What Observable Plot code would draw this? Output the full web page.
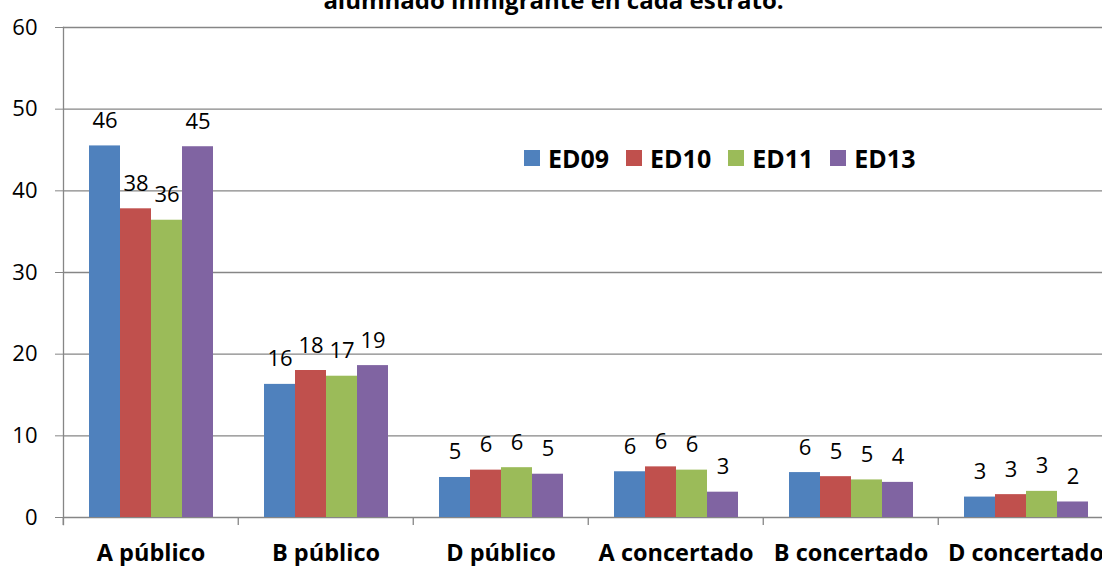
<!DOCTYPE html>
<html>
<head>
<meta charset="utf-8">
<script src="https://cdn.jsdelivr.net/npm/d3@7"></script>
<script src="https://cdn.jsdelivr.net/npm/@observablehq/plot@0.6"></script>
<style>
  html, body { margin: 0; padding: 0; background: #fff; overflow: hidden; }
  body { width: 1102px; height: 566px; position: relative; font-family: "Open Sans", sans-serif; }
  #title { position: absolute; left: 0; width: 1107px; top: -12px; text-align: center; font: bold 24px/24px "Open Sans", sans-serif; color: #000; white-space: nowrap; }
  #chart { position: absolute; left: 0; top: 0; }
  #legend { position: absolute; left: 524px; top: 141px; }
  #legend .leg-swatches { font-family: "Open Sans", sans-serif !important; font-size: 25px !important; font-weight: bold !important; color: #000 !important; margin: 0 !important; }
  #legend .leg-swatch { margin-right: 17px !important; }
  #legend .leg-swatch > svg { margin-right: 8px !important; }
</style>
</head>
<body>
<div id="chart"></div>
<div id="title">alumnado inmigrante en cada estrato.</div>
<div id="legend"></div>
<script>
const categories = ["A público", "B público", "D público", "A concertado", "B concertado", "D concertado"];
const series = ["ED09", "ED10", "ED11", "ED13"];
const colors = ["#4F81BD", "#C0504D", "#9BBB59", "#8064A2"];
const ED09 = [45.5, 16.3, 4.9, 5.6, 5.5, 2.5];
const ED10 = [37.8, 18.0, 5.8, 6.2, 5.0, 2.8];
const ED11 = [36.4, 17.3, 6.1, 5.8, 4.6, 3.2];
const ED13 = [45.4, 18.6, 5.3, 3.1, 4.3, 1.9];
const yTicks = [0, 10, 20, 30, 40, 50, 60];

const seriesValues = {ED09, ED10, ED11, ED13};
const data = [];
categories.forEach((c, i) => {
  series.forEach(s => data.push({category: c, series: s, value: seriesValues[s][i]}));
});

const W = 1102, H = 566;
const mL = 61, mR = -12, mT = 27, mB = 49;
const step = (W - mL - mR) / categories.length;
const grey = "#868686";

const chart = Plot.plot({
  width: W,
  height: H,
  marginLeft: mL,
  marginRight: mR,
  marginTop: mT,
  marginBottom: mB,
  style: {fontFamily: "Open Sans, sans-serif", background: "white", overflow: "visible"},
  fx: {domain: categories, padding: 0, label: null},
  x: {domain: series, paddingInner: 0, paddingOuter: 0.786, axis: null},
  y: {domain: [0, 60], label: null},
  color: {domain: series, range: colors},
  marks: [
    Plot.gridY(yTicks, {stroke: grey, strokeOpacity: 1, strokeWidth: 1.3}),
    Plot.frame({anchor: "left", facetAnchor: "left", stroke: grey, strokeWidth: 1.3, insetBottom: -7}),
    Plot.ruleX(categories, {fx: d => d, x: null, y: 0, dx: -step / 2, insetBottom: -8, stroke: grey, strokeWidth: 1.3}),
    Plot.axisY({ticks: yTicks, tickSize: 8, tickPadding: 18, stroke: grey, fill: "black", fontSize: 22, label: null}),
    Plot.axisFx({anchor: "bottom", tickSize: 0, tickPadding: 27, fontSize: 23.5, fontWeight: "bold", fill: "black", label: null}),
    Plot.barY(data, {fx: "category", x: "series", y: "value", fill: "series"}),
    Plot.text(data, {fx: "category", x: "series", y: "value", text: d => String(Math.round(d.value)), lineAnchor: "bottom", dy: -18, fontSize: 22, fill: "black"})
  ]
});
document.getElementById("chart").appendChild(chart);

const legend = chart.legend("color", {
  swatchSize: 16,
  className: "leg",
  style: {fontFamily: "Open Sans, sans-serif", fontSize: "25px", fontWeight: "bold", color: "#000"}
});
document.getElementById("legend").appendChild(legend);
</script>
</body>
</html>
